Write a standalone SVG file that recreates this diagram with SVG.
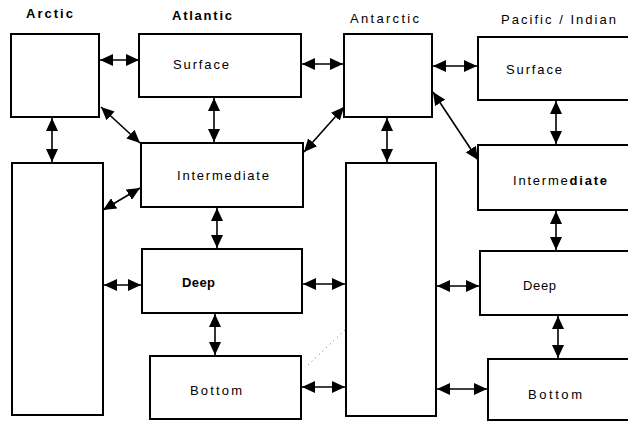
<svg xmlns="http://www.w3.org/2000/svg" width="628" height="423" viewBox="0 0 628 423">
  <style>
    .box { fill: #ffffff; stroke: #000000; stroke-width: 2; }
    .lbl { font-family: "Liberation Sans", Arial, sans-serif; font-size: 13px; fill: #000000; }
    .hdr { font-family: "Liberation Sans", Arial, sans-serif; font-size: 13px; fill: #000000; }
    .b { font-weight: bold; }
    .con { stroke: #000000; stroke-width: 1.6; fill: none; marker-start: url(#ah); marker-end: url(#ah); }
    .dot { stroke: #000000; stroke-width: 1; fill: none; stroke-dasharray: 1 4; opacity: 0.6; }
  </style>
  <defs>
    <marker id="ah" viewBox="0 0 13 12" refX="13" refY="6" markerWidth="13" markerHeight="12" markerUnits="userSpaceOnUse" orient="auto-start-reverse">
      <path d="M0,0 L13,6 L0,12 z" fill="#000000"/>
    </marker>
  </defs>
  <rect width="628" height="423" fill="#ffffff"/>

  <g id="headers">
    <text class="hdr b" x="26" y="18" textLength="47" lengthAdjust="spacing">Arctic</text>
    <text class="hdr b" x="172" y="20" textLength="60" lengthAdjust="spacing">Atlantic</text>
    <text class="hdr" x="350" y="23" textLength="69" lengthAdjust="spacing">Antarctic</text>
    <text class="hdr" x="501" y="24" textLength="115" lengthAdjust="spacing">Pacific / Indian</text>
  </g>

  <g id="connectors">
    <line class="con" x1="100" y1="60" x2="139" y2="60"/>
    <line class="con" x1="52" y1="118" x2="52" y2="162"/>
    <line class="con" x1="101" y1="107" x2="140" y2="143"/>
    <line class="con" x1="103" y1="210" x2="140" y2="188"/>
    <line class="con" x1="214" y1="98" x2="214" y2="142"/>
    <line class="con" x1="302" y1="64" x2="343" y2="64"/>
    <line class="con" x1="344" y1="107" x2="304" y2="152"/>
    <line class="con" x1="217" y1="208" x2="217" y2="248"/>
    <line class="con" x1="104" y1="285" x2="141" y2="285"/>
    <line class="con" x1="303" y1="284" x2="345" y2="284"/>
    <line class="con" x1="215" y1="314" x2="215" y2="355"/>
    <line class="con" x1="302" y1="387" x2="345" y2="387"/>
    <line class="con" x1="387" y1="118" x2="387" y2="162"/>
    <line class="con" x1="433" y1="66" x2="477" y2="66"/>
    <line class="con" x1="433" y1="92" x2="478" y2="160"/>
    <line class="con" x1="556" y1="101" x2="556" y2="144"/>
    <line class="con" x1="556" y1="211" x2="556" y2="250"/>
    <line class="con" x1="437" y1="286" x2="479" y2="286"/>
    <line class="con" x1="558" y1="316" x2="558" y2="358"/>
    <line class="con" x1="437" y1="389" x2="487" y2="389"/>
    <line class="dot" x1="308" y1="365" x2="345" y2="330"/>
  </g>

  <g id="arctic-top"><rect class="box" x="11" y="34" width="88" height="83"/></g>
  <g id="arctic-lower"><rect class="box" x="12" y="163" width="91" height="252"/></g>

  <g id="atlantic-surface">
    <rect class="box" x="139" y="34" width="162" height="63"/>
    <text class="lbl" x="173" y="69" textLength="56" lengthAdjust="spacing">Surface</text>
  </g>
  <g id="atlantic-intermediate">
    <rect class="box" x="141" y="143" width="162" height="64"/>
    <text class="lbl" x="177" y="180" textLength="92" lengthAdjust="spacing">Intermediate</text>
  </g>
  <g id="atlantic-deep">
    <rect class="box" x="142" y="249" width="160" height="64"/>
    <text class="lbl b" x="182" y="287" textLength="33" lengthAdjust="spacing">Deep</text>
  </g>
  <g id="atlantic-bottom">
    <rect class="box" x="150" y="356" width="151" height="63"/>
    <text class="lbl" x="190" y="395" textLength="52" lengthAdjust="spacing">Bottom</text>
  </g>

  <g id="antarctic-top"><rect class="box" x="344" y="34" width="88" height="83"/></g>
  <g id="antarctic-lower"><rect class="box" x="346" y="163" width="90" height="253"/></g>

  <g id="pacific-surface">
    <rect class="box" x="478" y="37" width="165" height="63"/>
    <text class="lbl" x="506" y="74" textLength="56" lengthAdjust="spacing">Surface</text>
  </g>
  <g id="pacific-intermediate">
    <rect class="box" x="478" y="145" width="165" height="65"/>
    <text class="lbl" x="513" y="185" textLength="94" lengthAdjust="spacing">Interme<tspan class="b">diate</tspan></text>
  </g>
  <g id="pacific-deep">
    <rect class="box" x="480" y="251" width="165" height="64"/>
    <text class="lbl" x="523" y="290" textLength="33" lengthAdjust="spacing">Deep</text>
  </g>
  <g id="pacific-bottom">
    <rect class="box" x="488" y="359" width="160" height="61"/>
    <text class="lbl" x="528" y="399" textLength="54" lengthAdjust="spacing">Bottom</text>
  </g>
</svg>
